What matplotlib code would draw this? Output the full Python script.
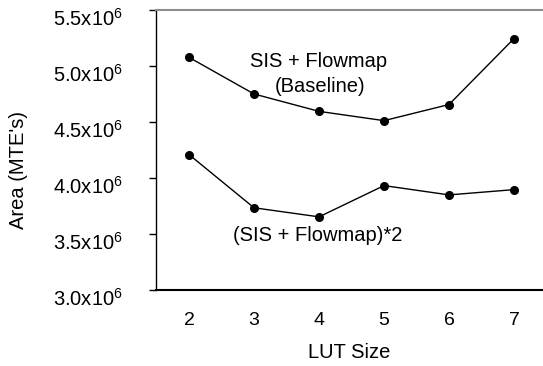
import numpy as np
import matplotlib as mpl
mpl.use("Agg")
import matplotlib.pyplot as plt
from matplotlib.transforms import ScaledTranslation

mpl.rcParams["font.family"] = ["Liberation Sans", "DejaVu Sans"]
mpl.rcParams["mathtext.fontset"] = "custom"
mpl.rcParams["mathtext.rm"] = "Liberation Sans"
mpl.rcParams["mathtext.it"] = "Liberation Sans"

lut_size = [2, 3, 4, 5, 6, 7]
baseline = [5.077e6, 4.75e6, 4.595e6, 4.512e6, 4.656e6, 5.245e6]
doubled = [4.209e6, 3.734e6, 3.653e6, 3.932e6, 3.849e6, 3.896e6]

y_ticks = [3.0e6, 3.5e6, 4.0e6, 4.5e6, 5.0e6, 5.5e6]
y_tick_labels = [r"3.0x10$^{6}$", r"3.5x10$^{6}$", r"4.0x10$^{6}$",
                 r"4.5x10$^{6}$", r"5.0x10$^{6}$", r"5.5x10$^{6}$"]

fig = plt.figure(figsize=(5.43, 3.66), dpi=100)
ax = fig.add_axes([0.2873, 0.2077, 0.7127, 0.765])

ax.plot(lut_size, baseline, color="black", linewidth=1.0,
        marker="o", markersize=5.5, zorder=3, clip_on=False)
ax.plot(lut_size, doubled, color="black", linewidth=1.0,
        marker="o", markersize=5.5, zorder=3, clip_on=False)

ax.set_xlim(1.492, 7.446)
ax.set_ylim(3.0e6, 5.5e6)

ax.set_xticks(lut_size)
ax.set_xticklabels([str(v) for v in lut_size], fontsize=14)
ax.tick_params(axis="x", length=0, pad=16)

ax.set_yticks(y_ticks)
ax.set_yticklabels(y_tick_labels, fontsize=14.5)
ax.tick_params(axis="y", length=5, width=1, pad=19)
# labels in the original sit a little below their ticks
shift = ScaledTranslation(0, -5 / 72, fig.dpi_scale_trans)
for lab in ax.get_yticklabels():
    lab.set_transform(lab.get_transform() + shift)

ax.spines["right"].set_visible(False)
ax.spines["top"].set_color("#8c8c8c")
ax.spines["top"].set_linewidth(1.5)
ax.spines["left"].set_linewidth(1.0)
ax.spines["bottom"].set_linewidth(1.5)

ax.set_xlabel("LUT Size", fontsize=14.5, labelpad=10)
ax.set_ylabel("Area (MTE's)", fontsize=14.5)
ax.yaxis.set_label_coords(-0.33, 0.4286)

ax.text(4.0, 5.04e6, "SIS + Flowmap", ha="center", va="center", fontsize=14.5)
ax.text(4.015, 4.82e6, "(Baseline)", ha="center", va="center", fontsize=14.5)
ax.text(3.98, 3.49e6, "(SIS + Flowmap)*2", ha="center", va="center", fontsize=14.5)

fig.savefig("out.png", dpi=100)
